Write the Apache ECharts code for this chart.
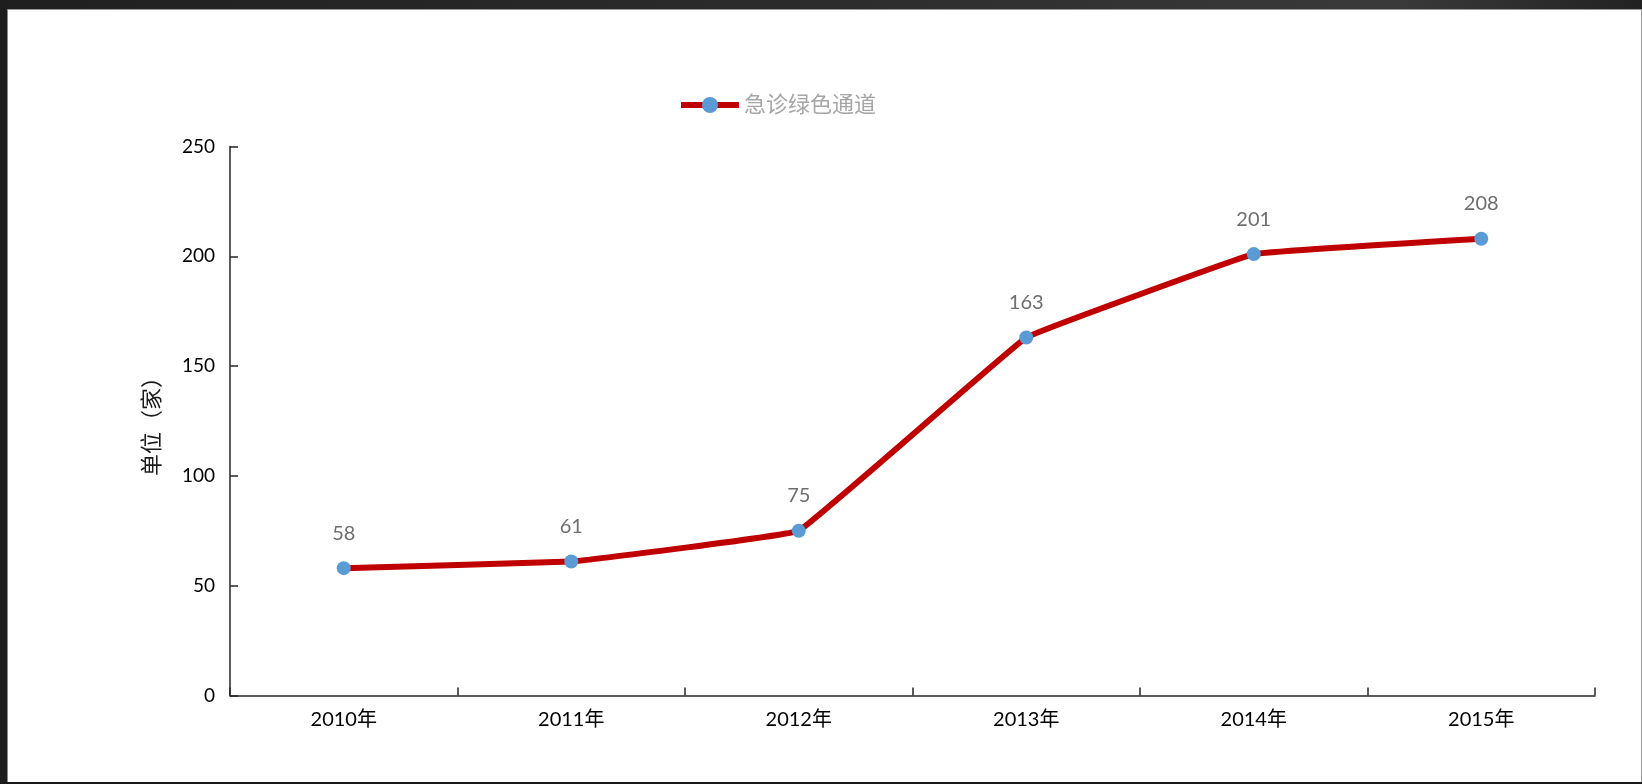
<!DOCTYPE html>
<html>
<head>
<meta charset="utf-8">
<script src="https://cdn.jsdelivr.net/npm/echarts@6/dist/echarts.min.js"></script>
<style>
  html, body { margin: 0; padding: 0; background: #ffffff; }
  #chart { width: 1642px; height: 784px; }
</style>
</head>
<body>
<div id="chart"></div>
<script>
// 急诊绿色通道数量（家）, 2010–2015
const years = ['2010年', '2011年', '2012年', '2013年', '2014年', '2015年'];
const greenChannel = [58, 61, 75, 163, 201, 208];
const seriesName = '急诊绿色通道';
const yAxisName = '单位（家）';

const FONT = 'Lato, "Noto Sans CJK SC", sans-serif';

const chart = echarts.init(document.getElementById('chart'));

chart.setOption({
  backgroundColor: '#ffffff',
  animation: false,
  // dark window frame round the white canvas
  graphic: [
    { type: 'rect', shape: { x: 0, y: 0, width: 1642, height: 9 },
      style: { fill: new echarts.graphic.LinearGradient(0, 0, 1, 0, [
        { offset: 0, color: '#1f1f1f' },
        { offset: 0.5, color: '#2c2c2c' },
        { offset: 0.85, color: '#3a3a3a' },
        { offset: 1, color: '#222222' }
      ]) }, z: 100 },
    { type: 'rect', shape: { x: 0, y: 9, width: 1642, height: 1 }, style: { fill: '#9a9a9a' }, z: 100 },
    { type: 'rect', shape: { x: 0, y: 0, width: 7, height: 784 }, style: { fill: '#1e1e1e' }, z: 100 },
    { type: 'rect', shape: { x: 7, y: 9, width: 1, height: 775 }, style: { fill: '#8a8a8a' }, z: 100 },
    { type: 'rect', shape: { x: 1641, y: 9, width: 1, height: 775 }, style: { fill: '#9a9a9a' }, z: 100 },
    { type: 'rect', shape: { x: 0, y: 782, width: 1642, height: 2 }, style: { fill: '#1a1a1a' }, z: 100 }
  ],
  legend: {
    data: [seriesName],
    left: 673,
    top: 89,
    itemWidth: 58,
    itemHeight: 20,
    itemGap: 10,
    lineStyle: { width: 6 },
    textStyle: { color: '#a6a6a6', fontSize: 22, fontFamily: FONT }
  },
  grid: { left: 230, right: 47, top: 146.5, bottom: 88.5 },
  xAxis: {
    type: 'category',
    data: years,
    boundaryGap: true,
    axisLine: { lineStyle: { color: '#262626', width: 1.5 } },
    axisTick: { show: true, inside: true, length: 8, lineStyle: { color: '#262626', width: 1.5 } },
    axisLabel: { color: '#000000', fontSize: 20, fontFamily: FONT, margin: 14 },
    splitLine: { show: false }
  },
  yAxis: {
    type: 'value',
    min: 0,
    max: 250,
    interval: 50,
    name: yAxisName,
    nameLocation: 'middle',
    nameGap: 68,
    nameRotate: 90,
    nameTextStyle: { color: '#1a1a1a', fontSize: 22, fontFamily: '"Noto Sans CJK SC", sans-serif' },
    axisLine: { show: true, lineStyle: { color: '#262626', width: 1.5 } },
    axisTick: { show: true, inside: true, length: 8, lineStyle: { color: '#262626', width: 1.5 } },
    axisLabel: { color: '#000000', fontSize: 19, fontFamily: FONT, margin: 15 },
    splitLine: { show: false }
  },
  series: [{
    name: seriesName,
    type: 'line',
    data: greenChannel,
    smooth: 0.05,
    symbol: 'circle',
    symbolSize: 14,
    lineStyle: { color: '#c00000', width: 6 },
    itemStyle: { color: '#5b9bd5', borderWidth: 0 },
    label: {
      show: true,
      position: 'top',
      distance: 18,
      color: '#6e6e6e',
      fontSize: 20,
      fontFamily: FONT
    }
  }]
});
</script>
</body>
</html>
